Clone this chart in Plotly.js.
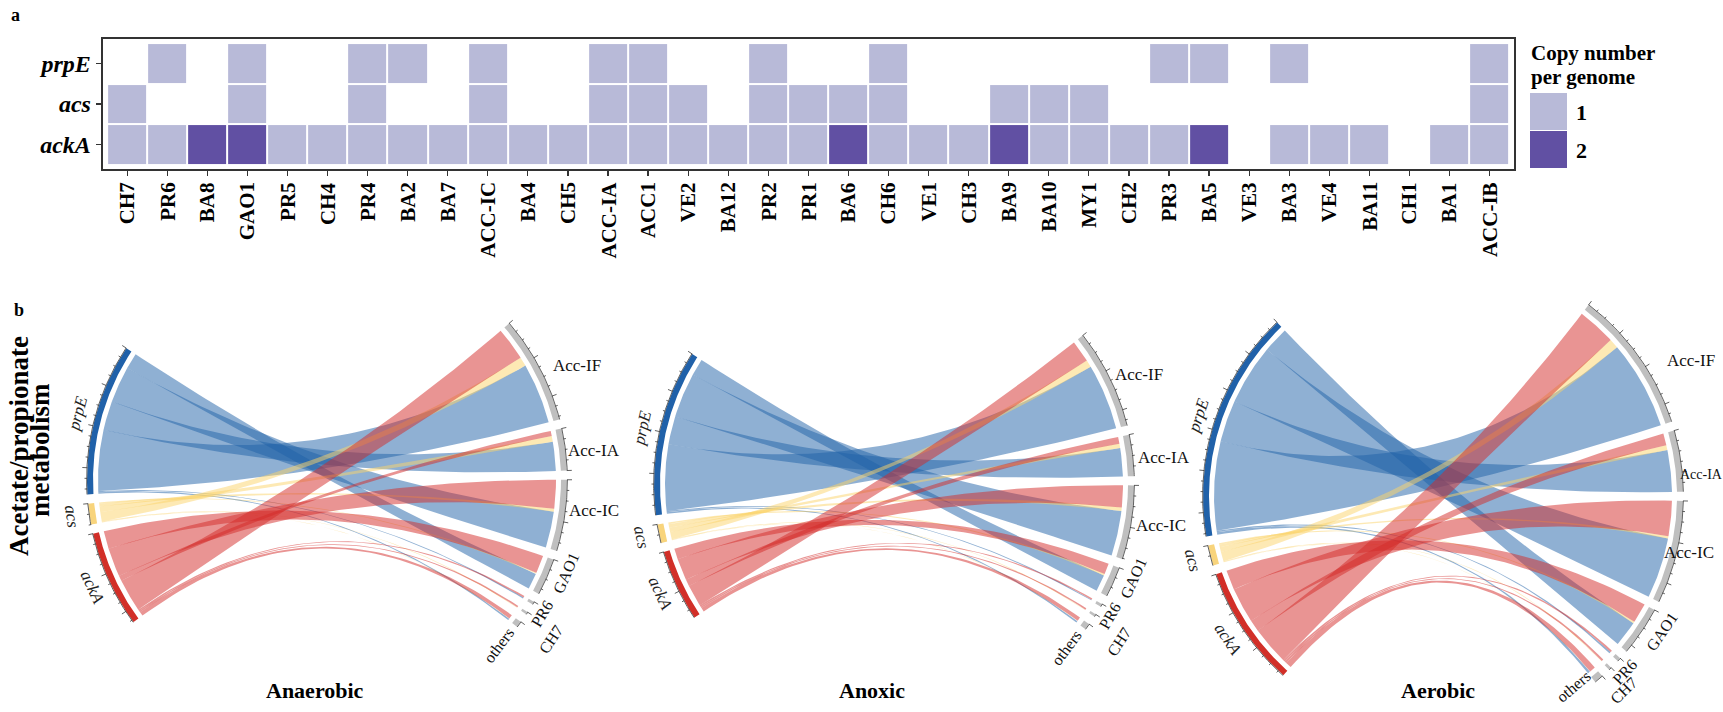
<!DOCTYPE html>
<html>
<head>
<meta charset="utf-8">
<script src="https://cdn.plot.ly/plotly-3.0.1.min.js"></script>
<style>
  html, body { margin: 0; padding: 0; background: #fff; }
  #chart { width: 1723px; height: 712px; }
</style>
</head>
<body>
<div id="chart"></div>
<script>
// ---------- Panel a: copy number of each gene per genome ----------
const genomes = ['CH7','PR6','BA8','GAO1','PR5','CH4','PR4','BA2','BA7','ACC-IC','BA4','CH5','ACC-IA','ACC1','VE2','BA12','PR2','PR1','BA6','CH6','VE1','CH3','BA9','BA10','MY1','CH2','PR3','BA5','VE3','BA3','VE4','BA11','CH1','BA1','ACC-IB'];
const geneRows = ['ackA', 'acs', 'prpE'];
const prpE_copies = [0,1,0,1,0,0,1,1,0,1,0,0,1,1,0,0,1,0,0,1,0,0,0,0,0,0,1,1,0,1,0,0,0,0,1];
const acs_copies  = [1,0,0,1,0,0,1,0,0,1,0,0,1,1,1,0,1,1,1,1,0,0,1,1,1,0,0,0,0,0,0,0,0,0,1];
const ackA_copies = [1,1,2,2,1,1,1,1,1,1,1,1,1,1,1,1,1,1,2,1,1,1,2,1,1,1,1,2,0,1,1,1,0,1,1];
const copyLevels = ['1', '2'];

// ---------- Panel b: gene expression linked to genome groups ----------
const linkGroups = ['Acc-IF','Acc-IA','Acc-IC','GAO1','PR6','CH7','others'];
const linkGenes  = ['prpE','acs','ackA'];

const anaerobic_prpE = [15.2, 7.3, 9.1, 4.0, 0.3, 0.0, 0.4];
const anaerobic_acs  = [ 2.3, 1.4, 0.7, 0.3, 0.0, 0.2, 0.1];
const anaerobic_ackA = [ 8.3, 1.3, 7.2, 4.5, 0.4, 0.4, 1.0];

const anoxic_prpE = [16.6, 7.1, 11.3, 4.2, 0.3, 0.0, 0.4];
const anoxic_acs  = [ 1.8, 1.1,  0.9, 0.4, 0.0, 0.2, 0.1];
const anoxic_ackA = [ 5.5, 1.7,  5.5, 2.7, 0.4, 0.4, 1.0];

const aerobic_prpE = [22.4, 10.5, 15.3, 6.5, 0.4, 0.0, 0.6];
const aerobic_acs  = [ 2.4,  1.2,  0.6, 0.4, 0.0, 0.2, 0.1];
const aerobic_ackA = [ 9.7,  3.0,  8.9, 5.0, 0.5, 0.5, 1.5];

// ---------- styling ----------
const W = 1723, H = 712;
const SERIF = 'Liberation Serif, Times New Roman, serif';
const lowColor = '#B8BAD8', highColor = '#6150A3';
const trackColors = { prpE: '#2061A9', acs: '#F8D47C', ackA: '#D22F28', group: '#BFBFBF' };
const ribbonColors = { prpE: 'rgba(31,97,167,0.5)', acs: 'rgba(251,211,105,0.5)', ackA: 'rgba(211,41,39,0.5)' };

const px2x = v => v / W;
const px2y = v => 1 - v / H;

const traces = [];
const annotations = [];
const shapes = [];

// ---------- heatmap ----------
const blank = v => (v === 0 ? null : v);
traces.push({
  type: 'heatmap',
  x: genomes,
  y: geneRows,
  z: [ackA_copies.map(blank), acs_copies.map(blank), prpE_copies.map(blank)],
  zmin: 1, zmax: 2,
  colorscale: [[0, lowColor], [1, highColor]],
  showscale: false,
  xgap: 2, ygap: 2,
  hoverinfo: 'skip',
  xaxis: 'x', yaxis: 'y'
});

// genome names under the columns, read bottom to top
genomes.forEach(g => {
  annotations.push({ xref: 'x', yref: 'paper', x: g, y: px2y(180), xanchor: 'center', yanchor: 'top',
    text: g, textangle: -90, showarrow: false, font: { family: SERIF, size: 21, color: '#000', weight: 'bold' } });
});

// legend for copy number
annotations.push({ xref: 'paper', yref: 'paper', x: px2x(1529), y: px2y(53), xanchor: 'left', yanchor: 'middle',
  text: 'Copy number', showarrow: false, font: { family: SERIF, size: 21, color: '#000', weight: 'bold' } });
annotations.push({ xref: 'paper', yref: 'paper', x: px2x(1529), y: px2y(77), xanchor: 'left', yanchor: 'middle',
  text: 'per genome', showarrow: false, font: { family: SERIF, size: 21, color: '#000', weight: 'bold' } });
[lowColor, highColor].forEach((c, i) => {
  const top = 93 + i * 38;
  shapes.push({ type: 'rect', xref: 'paper', yref: 'paper', x0: px2x(1530), x1: px2x(1567), y0: px2y(top), y1: px2y(top + 37),
    fillcolor: c, line: { width: 0 } });
  annotations.push({ xref: 'paper', yref: 'paper', x: px2x(1574), y: px2y(top + 20), xanchor: 'left', yanchor: 'middle',
    text: copyLevels[i], showarrow: false, font: { family: SERIF, size: 22, color: '#000', weight: 'bold' } });
});

// panel letters
annotations.push({ xref: 'paper', yref: 'paper', x: px2x(9), y: px2y(15), xanchor: 'left', yanchor: 'middle',
  text: 'a', showarrow: false, font: { family: SERIF, size: 18, color: '#000', weight: 'bold' } });
annotations.push({ xref: 'paper', yref: 'paper', x: px2x(12), y: px2y(310), xanchor: 'left', yanchor: 'middle',
  text: 'b', showarrow: false, font: { family: SERIF, size: 18, color: '#000', weight: 'bold' } });

// side title of panel b
annotations.push({ xref: 'paper', yref: 'paper', x: px2x(19), y: px2y(446), xanchor: 'center', yanchor: 'middle',
  text: 'Acetate/propionate', textangle: -90, showarrow: false, font: { family: SERIF, size: 27, color: '#000', weight: 'bold' } });
annotations.push({ xref: 'paper', yref: 'paper', x: px2x(40), y: px2y(450), xanchor: 'center', yanchor: 'middle',
  text: 'metabolism', textangle: -90, showarrow: false, font: { family: SERIF, size: 27, color: '#000', weight: 'bold' } });

// ---------- chord diagrams ----------
const RAD = Math.PI / 180;
const R_OUT = 240, R_IN = 234, R_LINK = 229, SMALL_GAP = 2.2;
const geneLinkOrder = [3, 2, 1, 0, 4, 5, 6];   // group order inside a gene sector, top to bottom
const groupLinkOrder = [2, 1, 0];              // gene order inside a group sector, top to bottom

const panels = [
  { title: 'Anaerobic', m: [anaerobic_prpE, anaerobic_acs, anaerobic_ackA], cx: 327, cy: 480, bigGap: 106, rot: 1.5, titleX: 315,
    accLabels: [[-0.6, 251, 17], [-0.4, 241, 17], [1.3, 242, 17]], othersPos: [-7, 238], ch7Pos: [-1.8, 275] },
  { title: 'Anoxic', m: [anoxic_prpE, anoxic_acs, anoxic_ackA], cx: 894, cy: 484, bigGap: 109, rot: 0.5, titleX: 872,
    accLabels: [[0.4, 245, 17], [-0.5, 243, 17], [-0.5, 244, 17]], othersPos: [-7, 238], ch7Pos: [-1.8, 275] },
  { title: 'Aerobic', m: [aerobic_prpE, aerobic_acs, aerobic_ackA], cx: 1443, cy: 496, bigGap: 81, rot: 1.0, titleX: 1438,
    accLabels: [[-4, 260, 17], [-3.3, 236, 14], [-0.8, 226, 17]], othersPos: [-6, 231], ch7Pos: [-1.2, 266] }
];
const smallLabelOffsets = { GAO1: [2.6, 257], PR6: [-1.0, 253] };

const pt = (r, d) => [r * Math.cos(d * RAD), r * Math.sin(d * RAD)];
function arc(r, d0, d1) {
  const n = Math.max(2, Math.ceil(Math.abs(d1 - d0) / 0.4));
  const out = [];
  for (let s = 0; s <= n; s++) out.push(pt(r, d0 + (d1 - d0) * s / n));
  return out;
}
function curve(p0, p2) {          // quadratic Bezier with its control point at the centre
  const out = [], n = 60;
  for (let s = 1; s < n; s++) {
    const t = s / n, a = (1 - t) * (1 - t), c = t * t;
    out.push([a * p0[0] + c * p2[0], a * p0[1] + c * p2[1]]);
  }
  return out;
}
function tangentAngle(theta) {
  const t = ((theta % 360) + 360) % 360;
  if (t < 180) return 90 - t;
  let a = -(t + 90);
  while (a <= -180) a += 360;
  return a;
}
const sum = a => a.reduce((s, v) => s + v, 0);

panels.forEach((P, pi) => {
  const xa = 'x' + (pi + 2), ya = 'y' + (pi + 2);
  const m = P.m;
  const geneTot = m.map(sum);
  const groupTot = linkGroups.map((_, j) => sum(m.map(r => r[j])));
  const total = sum(geneTot);
  const nGaps = (linkGroups.length - 1) + (linkGenes.length - 1);
  const k = (360 - 2 * P.bigGap - nGaps * SMALL_GAP) / (2 * total);

  // group sectors on the right, clockwise from the top
  let a = P.rot + (total * k + (linkGroups.length - 1) * SMALL_GAP) / 2;
  const groupSec = groupTot.map(v => { const s = { start: a, end: a - v * k, dir: -1 }; a -= v * k + SMALL_GAP; return s; });
  // gene sectors on the left, counter-clockwise from the top
  let b = 180 + P.rot - (total * k + (linkGenes.length - 1) * SMALL_GAP) / 2;
  const geneSec = geneTot.map(v => { const s = { start: b, end: b + v * k, dir: 1 }; b += v * k + SMALL_GAP; return s; });

  // link end positions
  const ends = m.map(r => r.map(() => ({})));
  geneSec.forEach((s, i) => {
    let p = s.start;
    geneLinkOrder.forEach(j => { const w = m[i][j] * k; ends[i][j].g = [p, p + w]; p += w; });
  });
  groupSec.forEach((s, j) => {
    let q = s.start;
    groupLinkOrder.forEach(i => { const w = m[i][j] * k; ends[i][j].t = [q - w, q]; q -= w; });
  });

  // ribbons
  linkGenes.forEach((g, i) => {
    linkGroups.forEach((_, j) => {
      if (m[i][j] <= 0) return;
      const e = ends[i][j];
      const pts = [].concat(
        arc(R_LINK, e.g[0], e.g[1]),
        curve(pt(R_LINK, e.g[1]), pt(R_LINK, e.t[0])),
        arc(R_LINK, e.t[0], e.t[1]),
        curve(pt(R_LINK, e.t[1]), pt(R_LINK, e.g[0]))
      );
      pts.push(pts[0]);
      traces.push({ type: 'scatter', mode: 'lines', x: pts.map(p => p[0]), y: pts.map(p => p[1]),
        fill: 'toself', fillcolor: ribbonColors[g], line: { width: 0, color: ribbonColors[g] },
        hoverinfo: 'skip', xaxis: xa, yaxis: ya });
    });
  });

  // tracks, axis lines and ticks
  const tickX = [], tickY = [];
  const allSec = geneSec.map((s, i) => ({ s, color: trackColors[linkGenes[i]], tot: geneTot[i] }))
    .concat(groupSec.map((s, j) => ({ s, color: trackColors.group, tot: groupTot[j] })));
  allSec.forEach(({ s, color, tot }) => {
    const ring = arc(R_OUT, s.start, s.end).concat(arc(R_IN, s.end, s.start));
    ring.push(ring[0]);
    traces.push({ type: 'scatter', mode: 'lines', x: ring.map(p => p[0]), y: ring.map(p => p[1]),
      fill: 'toself', fillcolor: color, line: { width: 0, color: color }, hoverinfo: 'skip', xaxis: xa, yaxis: ya });
    const base = arc(R_OUT + 0.4, s.start, s.end);
    base.forEach(p => { tickX.push(p[0]); tickY.push(p[1]); });
    tickX.push(null); tickY.push(null);
    for (let u = 0; u <= tot + 1e-6; u += 2.5) {
      const d = s.start + s.dir * u * k;
      const len = (Math.round(u / 2.5) % 4 === 0) ? 5 : 2.5;
      const p0 = pt(R_OUT, d), p1 = pt(R_OUT + len, d);
      tickX.push(p0[0], p1[0], null); tickY.push(p0[1], p1[1], null);
    }
  });
  traces.push({ type: 'scatter', mode: 'lines', x: tickX, y: tickY, line: { width: 0.8, color: '#3a3a3a' },
    hoverinfo: 'skip', xaxis: xa, yaxis: ya });

  // gene labels
  geneSec.forEach((s, i) => {
    const mid = (s.start + s.end) / 2;
    const p = pt(258, mid);
    annotations.push({ xref: xa, yref: ya, x: p[0], y: p[1], xanchor: 'center', yanchor: 'middle',
      text: linkGenes[i], textangle: tangentAngle(mid), showarrow: false,
      font: { family: SERIF, size: 17, color: '#222', style: 'italic' } });
  });
  // group labels
  groupSec.forEach((s, j) => {
    const mid = (s.start + s.end) / 2;
    const name = linkGroups[j];
    if (j < 3) {
      const off = P.accLabels[j];
      const p = pt(off[1], mid + off[0]);
      annotations.push({ xref: xa, yref: ya, x: p[0], y: p[1], xanchor: 'left', yanchor: 'middle',
        text: name, showarrow: false, font: { family: SERIF, size: off[2], color: '#111' } });
    } else {
      const off = name === 'others' ? P.othersPos : (name === 'CH7' ? P.ch7Pos : smallLabelOffsets[name]);
      const p = pt(off[1], mid + off[0]);
      annotations.push({ xref: xa, yref: ya, x: p[0], y: p[1], xanchor: 'center', yanchor: 'middle',
        text: name, textangle: tangentAngle(mid), showarrow: false, font: { family: SERIF, size: 16, color: '#111' } });
    }
  });

  // panel title
  annotations.push({ xref: 'paper', yref: 'paper', x: px2x(P.titleX), y: px2y(690), xanchor: 'center', yanchor: 'middle',
    text: P.title, showarrow: false, font: { family: SERIF, size: 22, color: '#000', weight: 'bold' } });
});

// ---------- layout ----------
const layout = {
  width: W, height: H,
  margin: { l: 0, r: 0, t: 0, b: 0 },
  paper_bgcolor: '#fff', plot_bgcolor: 'rgba(0,0,0,0)',
  showlegend: false,
  xaxis: {
    domain: [px2x(102.7), px2x(1514)], type: 'category', range: [-0.61, 34.61],
    showgrid: false, zeroline: false, showline: true, mirror: true, linecolor: '#333', linewidth: 2,
    ticks: 'outside', ticklen: 5, tickwidth: 1.2, tickcolor: '#333', showticklabels: false, fixedrange: true
  },
  yaxis: {
    domain: [px2y(169), px2y(39)], type: 'category', range: [-0.6, 2.6],
    showgrid: false, zeroline: false, showline: true, mirror: true, linecolor: '#333', linewidth: 2,
    ticks: 'outside', ticklen: 5, tickwidth: 1.2, tickcolor: '#333',
    tickfont: { family: SERIF, size: 24, color: '#000', weight: 'bold', style: 'italic' }, fixedrange: true
  },
  annotations: annotations,
  shapes: shapes
};
panels.forEach((P, pi) => {
  const hx = 270, hyTop = 200, hyLow = Math.min(225, H - P.cy - 1);
  layout['xaxis' + (pi + 2)] = { domain: [px2x(P.cx - hx), px2x(P.cx + hx)], range: [-hx, hx], visible: false, fixedrange: true };
  layout['yaxis' + (pi + 2)] = { domain: [px2y(P.cy + hyLow), px2y(P.cy - hyTop)], range: [-hyLow, hyTop], visible: false, fixedrange: true };
});

Plotly.newPlot('chart', traces, layout, { staticPlot: true, displayModeBar: false });
</script>
</body>
</html>
